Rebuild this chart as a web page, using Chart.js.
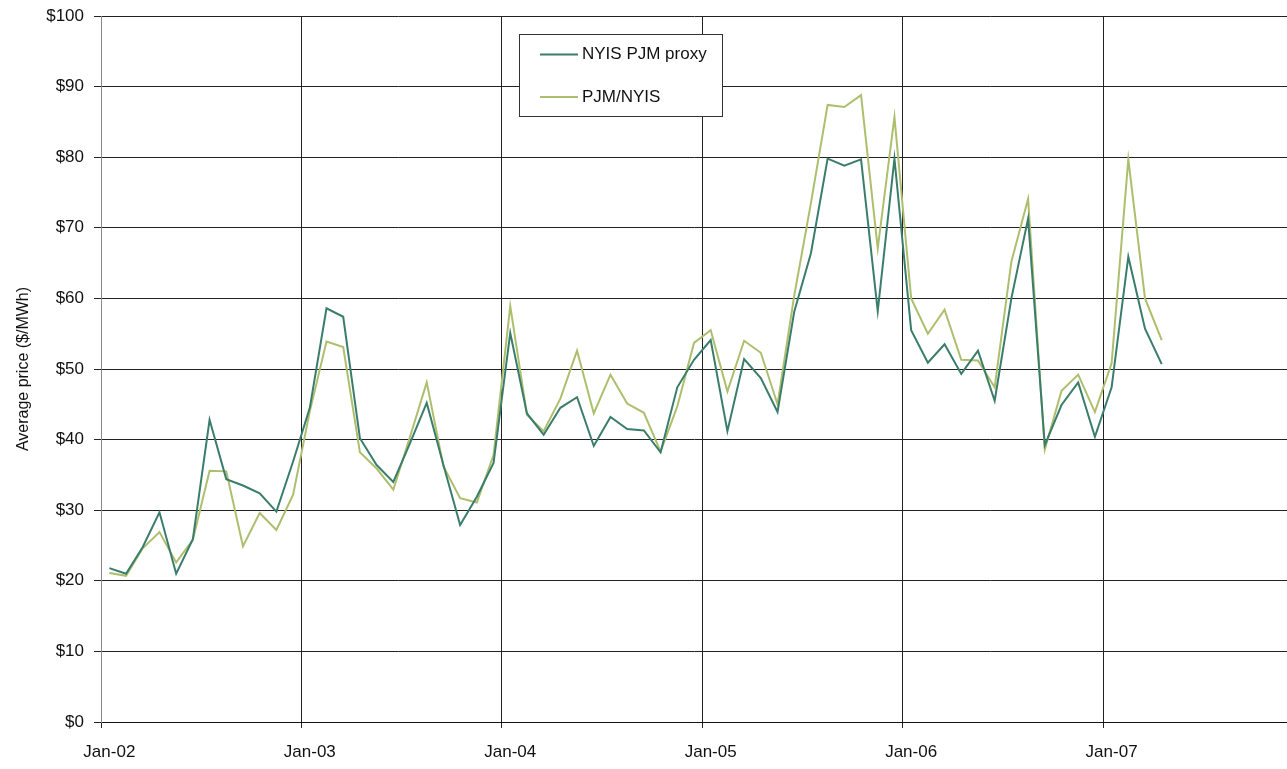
<!DOCTYPE html>
<html>
<head>
<meta charset="utf-8">
<script src="https://cdn.jsdelivr.net/npm/chart.js@4.4.1/dist/chart.umd.min.js"></script>
<style>
  html, body { margin: 0; padding: 0; background: #fff; }
  #wrap { width: 1287px; height: 769px; position: relative; }
</style>
</head>
<body>
<div id="wrap"><canvas id="priceChart"></canvas></div>
<script>
// months on the axis (Jan-02 .. Nov-07)
const months = [
  "Jan-02","Feb-02","Mar-02","Apr-02","May-02","Jun-02","Jul-02","Aug-02","Sep-02","Oct-02","Nov-02","Dec-02",
  "Jan-03","Feb-03","Mar-03","Apr-03","May-03","Jun-03","Jul-03","Aug-03","Sep-03","Oct-03","Nov-03","Dec-03",
  "Jan-04","Feb-04","Mar-04","Apr-04","May-04","Jun-04","Jul-04","Aug-04","Sep-04","Oct-04","Nov-04","Dec-04",
  "Jan-05","Feb-05","Mar-05","Apr-05","May-05","Jun-05","Jul-05","Aug-05","Sep-05","Oct-05","Nov-05","Dec-05",
  "Jan-06","Feb-06","Mar-06","Apr-06","May-06","Jun-06","Jul-06","Aug-06","Sep-06","Oct-06","Nov-06","Dec-06",
  "Jan-07","Feb-07","Mar-07","Apr-07","May-07","Jun-07","Jul-07","Aug-07","Sep-07","Oct-07","Nov-07"
];

// labels shown under the axis
const yearTicks = ["Jan-02", "Jan-03", "Jan-04", "Jan-05", "Jan-06", "Jan-07"];

const nyisProxy = [
  21.8, 21.0, 24.8, 29.7, 21.0, 25.9, 42.8, 34.4, 33.5, 32.4, 29.8, 36.9,
  44.5, 58.6, 57.4, 40.2, 36.4, 34.0, 39.5, 45.2, 36.4, 27.9, 31.9, 36.7,
  55.1, 43.7, 40.7, 44.5, 46.0, 39.1, 43.2, 41.5, 41.3, 38.2, 47.4, 51.3,
  54.1, 41.2, 51.4, 48.7, 43.9, 58.1, 66.4, 79.8, 78.8, 79.7, 58.2, 79.8,
  55.5, 50.9, 53.5, 49.3, 52.6, 45.5, 60.0, 71.3, 39.2, 44.9, 48.1, 40.4,
  47.4, 65.9, 55.7, 50.7
];

const pjmNyis = [
  21.1, 20.7, 24.6, 26.9, 22.6, 25.8, 35.6, 35.5, 24.9, 29.6, 27.2, 32.2,
  44.0, 53.9, 53.1, 38.2, 35.9, 32.9, 40.4, 48.1, 36.2, 31.7, 31.1, 37.8,
  58.9, 43.5, 41.2, 45.8, 52.6, 43.7, 49.2, 45.1, 43.8, 38.3, 44.7, 53.7,
  55.5, 46.8, 54.0, 52.3, 45.0, 60.4, 73.5, 87.4, 87.1, 88.8, 67.1, 85.7,
  60.0, 55.0, 58.4, 51.3, 51.2, 47.4, 65.2, 74.1, 38.6, 46.9, 49.2, 43.9,
  50.8, 79.7, 60.0, 54.1
];

const seriesNames = ["NYIS PJM proxy", "PJM/NYIS"];
const seriesColors = ["#3b7d6b", "#adbf6e"];

const FONT = "'Liberation Sans Narrow', 'Arial Narrow', 'Liberation Sans', sans-serif";

function isYearTick(i) {
  return yearTicks.indexOf(months[i]) !== -1;
}

// boxed legend drawn inside the plot
const boxLegend = {
  id: "boxLegend",
  afterDraw(chart) {
    const ctx = chart.ctx;
    const x = 519.5, y = 34.5, w = 203, h = 82;
    ctx.save();
    ctx.fillStyle = "#fff";
    ctx.fillRect(x, y, w, h);
    ctx.strokeStyle = "#333";
    ctx.lineWidth = 1;
    ctx.strokeRect(x, y, w, h);
    ctx.font = "17px " + FONT;
    ctx.textBaseline = "middle";
    chart.data.datasets.forEach((ds, i) => {
      const ly = 54.5 + i * 42.5;
      ctx.strokeStyle = ds.borderColor;
      ctx.lineWidth = 2;
      ctx.beginPath();
      ctx.moveTo(540, ly);
      ctx.lineTo(578, ly);
      ctx.stroke();
      ctx.fillStyle = "#111";
      ctx.fillText(ds.label, 582, ly);
    });
    ctx.restore();
  }
};

new Chart(document.getElementById("priceChart"), {
  type: "line",
  data: {
    labels: months,
    datasets: [
      { label: seriesNames[0], data: nyisProxy, borderColor: seriesColors[0], borderWidth: 2 },
      { label: seriesNames[1], data: pjmNyis, borderColor: seriesColors[1], borderWidth: 2 }
    ]
  },
  options: {
    responsive: true,
    maintainAspectRatio: false,
    animation: false,
    layout: { padding: { top: 16, right: 0, bottom: 0, left: 0 } },
    elements: { point: { radius: 0 }, line: { tension: 0 } },
    plugins: { legend: { display: false }, tooltip: { enabled: false } },
    scales: {
      x: {
        type: "category",
        offset: true,
        grid: {
          offset: true,
          drawOnChartArea: true,
          color: ctx => isYearTick(ctx.index) ? "#222" : "rgba(0,0,0,0)",
          tickColor: ctx => isYearTick(ctx.index) ? "#222" : "rgba(0,0,0,0)",
          tickLength: 6
        },
        border: { color: "#111", width: 1 },
        ticks: {
          autoSkip: false,
          maxRotation: 0,
          padding: 14,
          color: "#111",
          font: { family: FONT, size: 17 },
          callback: function (v, i) { return isYearTick(i) ? months[i] : ""; }
        },
        afterFit: s => { s.height = 47; s.paddingLeft = 0; s.paddingRight = 0; }
      },
      y: {
        min: 0,
        max: 100,
        grid: { color: "#222", tickColor: "#222", tickLength: 7 },
        border: { color: "#888", width: 1 },
        ticks: {
          stepSize: 10,
          padding: 10,
          color: "#111",
          font: { family: FONT, size: 17 },
          callback: v => "$" + v
        },
        title: {
          display: true,
          text: "Average price ($/MWh)",
          color: "#111",
          font: { family: FONT, size: 16 },
          padding: { top: 14, bottom: 0 }
        },
        afterFit: s => { s.width = 101; s.paddingTop = 0; s.paddingBottom = 0; }
      }
    }
  },
  plugins: [boxLegend]
});
</script>
</body>
</html>
